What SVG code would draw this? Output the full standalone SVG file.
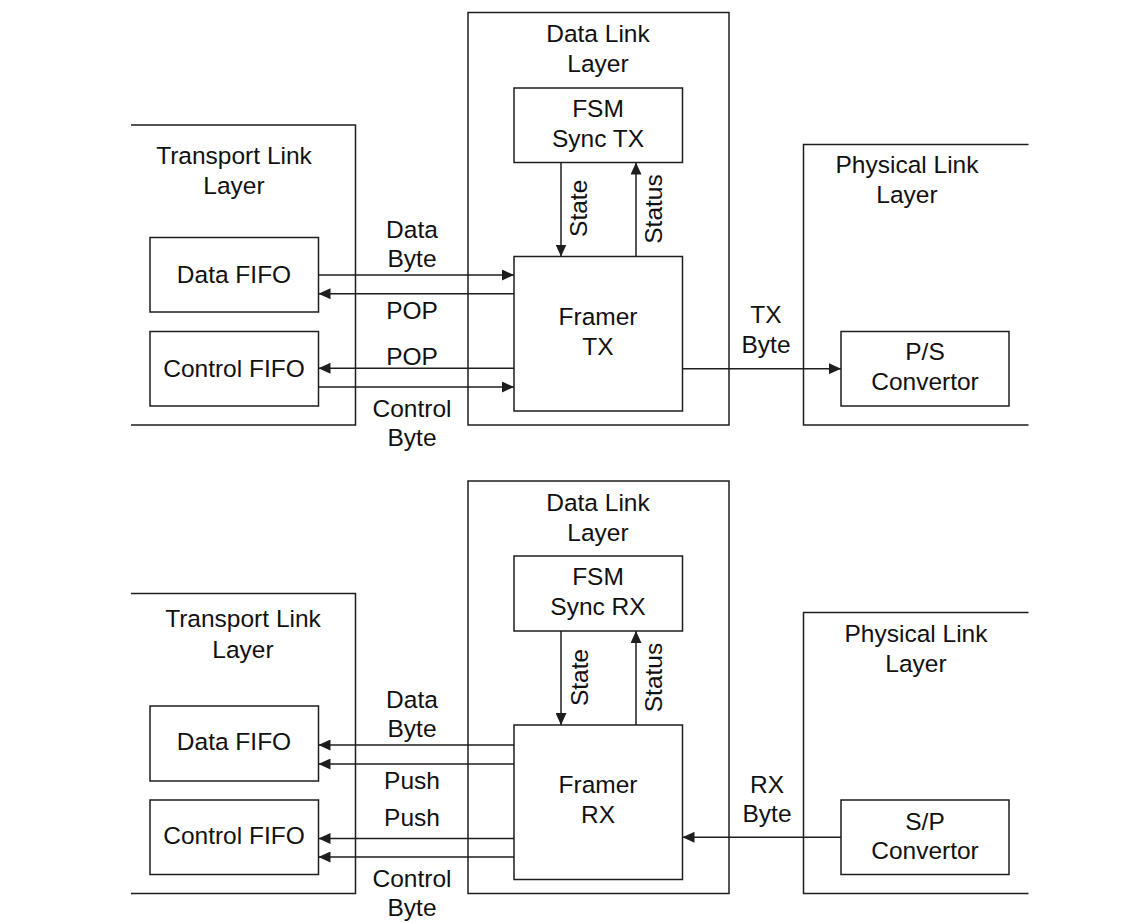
<svg xmlns="http://www.w3.org/2000/svg" width="1138" height="922" viewBox="0 0 1138 922">
<style>
.box{fill:none;stroke:#1e1e1e;stroke-width:1.5}
.ln{fill:none;stroke:#1e1e1e;stroke-width:1.5}
.arr{fill:none;stroke:#1e1e1e;stroke-width:1.5;marker-end:url(#ah)}
text{font-family:"Liberation Sans",Arial,sans-serif;font-size:24.5px;fill:#111;text-anchor:middle}
</style>
<defs>
<marker id="ah" markerUnits="userSpaceOnUse" markerWidth="12" markerHeight="11" refX="12" refY="5.5" orient="auto">
<path d="M0,0 L12,5.5 L0,11 z" fill="#1e1e1e"/>
</marker>
</defs>
<rect width="1138" height="922" fill="#fff"/>

<!-- TOP (TX) -->
<g id="tx-transport">
<path class="ln" d="M131,125 H355.5 V425 H131"/>
<text x="234" y="164">Transport Link</text>
<text x="234" y="193.5">Layer</text>
</g>
<g id="tx-datafifo">
<rect class="box" x="150" y="237.5" width="168.5" height="74.5"/>
<text x="234" y="282.5">Data FIFO</text>
</g>
<g id="tx-ctrlfifo">
<rect class="box" x="150" y="331.5" width="168.5" height="74.5"/>
<text x="234" y="376.5">Control FIFO</text>
</g>
<g id="tx-datalink">
<rect class="box" x="468" y="12.5" width="261" height="412.5"/>
<text x="598" y="41.7">Data Link</text>
<text x="598" y="71.7">Layer</text>
</g>
<g id="tx-fsm">
<rect class="box" x="514" y="88" width="168.5" height="74.5"/>
<text x="598" y="116.7">FSM</text>
<text x="598" y="146.7">Sync TX</text>
</g>
<g id="tx-framer">
<rect class="box" x="514" y="256.5" width="168.5" height="154.5"/>
<text x="598" y="325">Framer</text>
<text x="598" y="355">TX</text>
</g>
<g id="tx-physical">
<path class="ln" d="M1028.5,144.5 H803.5 V425 H1028.5"/>
<text x="907" y="173.3">Physical Link</text>
<text x="907" y="202.7">Layer</text>
</g>
<g id="tx-ps">
<rect class="box" x="841" y="331.5" width="168" height="74.5"/>
<text x="925" y="360">P/S</text>
<text x="925" y="390">Convertor</text>
</g>

<g id="tx-connectors">
<line class="arr" x1="318.5" y1="275" x2="514" y2="275"/>
<line class="arr" x1="514" y1="293.7" x2="318.5" y2="293.7"/>
<line class="arr" x1="514" y1="368.3" x2="318.5" y2="368.3"/>
<line class="arr" x1="318.5" y1="387" x2="514" y2="387"/>
<line class="arr" x1="561" y1="162.5" x2="561" y2="256.5"/>
<line class="arr" x1="636" y1="256.5" x2="636" y2="162.5"/>
<line class="arr" x1="682.5" y1="368.7" x2="841" y2="368.7"/>
<text x="412" y="238">Data</text>
<text x="412" y="267">Byte</text>
<text x="412" y="319">POP</text>
<text x="412" y="365">POP</text>
<text x="412" y="416.5">Control</text>
<text x="412" y="446">Byte</text>
<text transform="translate(587,208.3) rotate(-90)">State</text>
<text transform="translate(661.7,209) rotate(-90)">Status</text>
<text x="766" y="323.3">TX</text>
<text x="766" y="352.7">Byte</text>
</g>

<!-- BOTTOM (RX) -->
<g id="rx-transport">
<path class="ln" d="M131,593.5 H355.5 V893.5 H131"/>
<text x="243" y="627">Transport Link</text>
<text x="243" y="657.5">Layer</text>
</g>
<g id="rx-datafifo">
<rect class="box" x="150" y="706" width="168.5" height="75"/>
<text x="234" y="750">Data FIFO</text>
</g>
<g id="rx-ctrlfifo">
<rect class="box" x="150" y="800" width="168.5" height="74.5"/>
<text x="234" y="844">Control FIFO</text>
</g>
<g id="rx-datalink">
<rect class="box" x="468" y="481" width="261" height="412.5"/>
<text x="598" y="510.7">Data Link</text>
<text x="598" y="540.7">Layer</text>
</g>
<g id="rx-fsm">
<rect class="box" x="514" y="556" width="168.5" height="75"/>
<text x="598" y="585">FSM</text>
<text x="598" y="615">Sync RX</text>
</g>
<g id="rx-framer">
<rect class="box" x="514" y="725" width="168.5" height="154.5"/>
<text x="598" y="793.3">Framer</text>
<text x="598" y="823.3">RX</text>
</g>
<g id="rx-physical">
<path class="ln" d="M1028.5,612.5 H803.5 V893.5 H1028.5"/>
<text x="916" y="641.7">Physical Link</text>
<text x="916" y="671.7">Layer</text>
</g>
<g id="rx-sp">
<rect class="box" x="841" y="800" width="168" height="74.5"/>
<text x="925" y="830">S/P</text>
<text x="925" y="859.3">Convertor</text>
</g>

<g id="rx-connectors">
<line class="arr" x1="514" y1="745" x2="318.5" y2="745"/>
<line class="arr" x1="514" y1="764" x2="318.5" y2="764"/>
<line class="arr" x1="514" y1="838.5" x2="318.5" y2="838.5"/>
<line class="arr" x1="514" y1="857" x2="318.5" y2="857"/>
<line class="arr" x1="561" y1="631" x2="561" y2="725"/>
<line class="arr" x1="636" y1="725" x2="636" y2="631"/>
<line class="arr" x1="841" y1="837.3" x2="682.5" y2="837.3"/>
<text x="412" y="707.5">Data</text>
<text x="412" y="737">Byte</text>
<text x="412" y="789">Push</text>
<text x="412" y="826">Push</text>
<text x="412" y="886.5">Control</text>
<text x="412" y="916">Byte</text>
<text transform="translate(588,677.5) rotate(-90)">State</text>
<text transform="translate(662,677.5) rotate(-90)">Status</text>
<text x="767" y="792.7">RX</text>
<text x="767" y="822">Byte</text>
</g>
</svg>
